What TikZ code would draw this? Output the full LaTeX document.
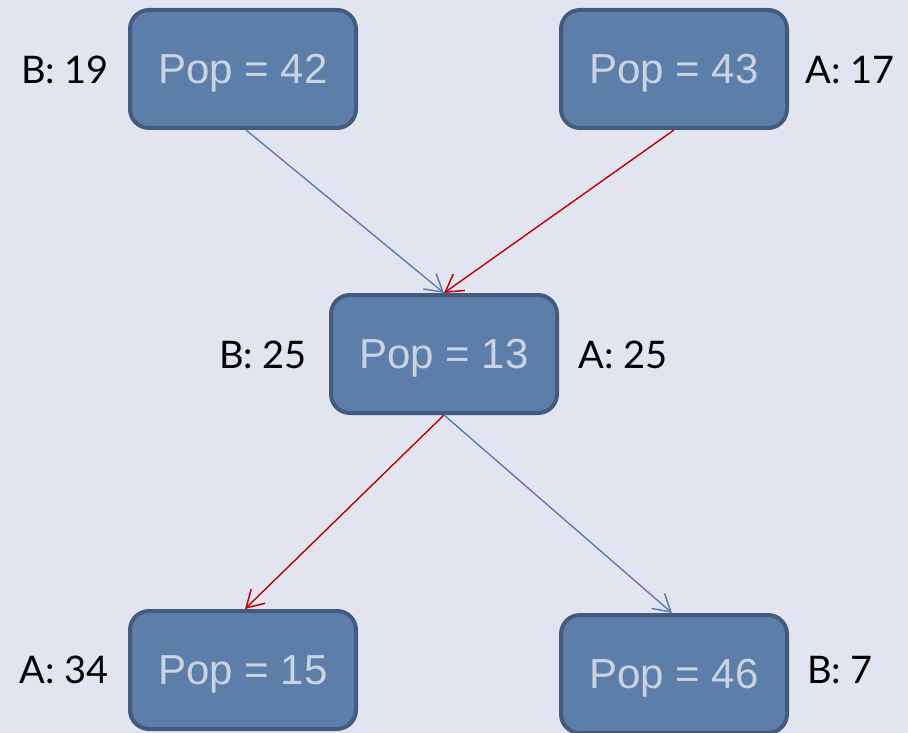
\documentclass[tikz,border=0pt]{standalone}
\usepackage{fontspec}
\setmainfont{Liberation Sans}
\newfontfamily\labelfont{Lato}
\usetikzlibrary{arrows.meta}
\definecolor{bgc}{HTML}{E2E5F0}
\definecolor{boxfill}{HTML}{5D7EA9}
\definecolor{boxline}{HTML}{435C7D}
\definecolor{boxtext}{HTML}{C9D3E4}
\definecolor{bluearrow}{HTML}{5B7DB0}
\definecolor{redarrow}{HTML}{C00000}
\tikzset{
  popbox/.style={rectangle, rounded corners=19pt, draw=boxline, line width=4pt,
    fill=boxfill, minimum width=226pt, minimum height=118pt, text=boxtext,
    text depth=0pt, font=\fontsize{42}{42}\selectfont},
  side/.style={text=black, text depth=0pt, font=\labelfont\fontsize{38}{38}\selectfont},
  link/.style={line width=1.4pt, arrows={-Straight Barb[length=17pt,width=20pt,line width=1.5pt]}},
  bluelink/.style={link, draw=bluearrow},
  redlink/.style={link, draw=redarrow},
}
\begin{document}
\begin{tikzpicture}[x=1pt,y=1pt]
\path[use as bounding box, fill=bgc] (0,0) rectangle (908,-733);
\clip (0,0) rectangle (908,-733);

% population nodes
\node[popbox] (p42) at (243,-69) {Pop = 42};
\node[popbox] (p43) at (674,-69) {Pop = 43};
\node[popbox] (p13) at (444,-354) {Pop = 13};
\node[popbox] (p15) at (243,-670) {Pop = 15};
\node[popbox] (p46) at (674,-674) {Pop = 46};

% side labels
\node[side] (l19) at (65,-70) {B: 19};
\node[side] (l17) at (850,-70) {A: 17};
\node[side] (l25b) at (263,-355) {B: 25};
\node[side] (l25a) at (623,-355) {A: 25};
\node[side] (l34) at (64,-670) {A: 34};
\node[side] (l7) at (840,-670) {B: 7};

% transitions
\draw[bluelink] ([xshift=3pt]p42.south) -- (p13.north);
\draw[redlink] (p43.south) -- (p13.north);
\draw[redlink] (p13.south) -- ([xshift=2pt]p15.north);
\draw[bluelink] (p13.south) -- ([xshift=-2pt]p46.north);
\end{tikzpicture}
\end{document}
